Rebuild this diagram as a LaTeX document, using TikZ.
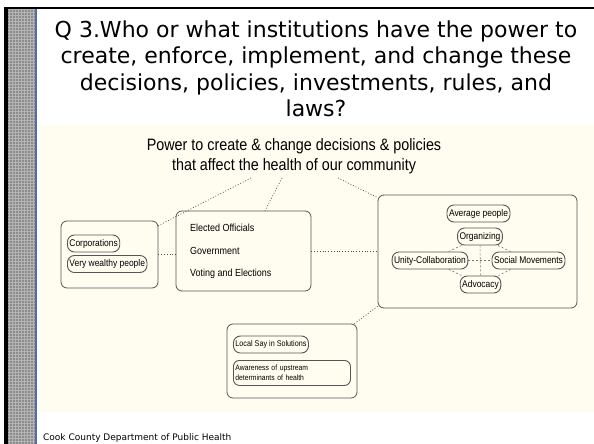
\documentclass[tikz,border=0pt]{standalone}
\usepackage{fontspec}
\setmainfont{DejaVu Sans}
\newfontfamily\diagfont[FakeStretch=0.87]{Liberation Sans}
\usepackage{tikz}
\definecolor{panelbg}{RGB}{255,252,240}
\definecolor{stripgray}{RGB}{140,140,140}
\definecolor{stripblue}{RGB}{80,110,160}
\definecolor{boxline}{RGB}{85,85,85}

\begin{document}
\begin{tikzpicture}[x=1pt,y=-1pt,
    group node/.style={draw=boxline,line width=0.8pt,rounded corners=6pt,inner sep=0pt},
    pill node/.style={draw=boxline,line width=0.9pt,rounded corners=7pt,inner xsep=2pt,inner ysep=0pt,minimum height=17pt,font=\diagfont\fontsize{9.7}{11}\selectfont},
    item node/.style={anchor=west,inner sep=0pt,font=\diagfont\fontsize{10.3}{12}\selectfont},
    link/.style={dotted,line width=0.8pt,draw=black!70},
    inner link/.style={dash pattern=on 2pt off 2pt,line width=0.6pt,draw=black!55}]

	\useasboundingbox (0,0) rectangle (594,444);
	\fill[white] (0,0) rectangle (594,444);
	% slide frame
	\fill[stripgray] (8,9) rectangle (35,444);
	\draw[white,opacity=0.35,line width=0.4pt,step=3pt] (8,9) grid (35,444);
	\fill[stripblue] (35,9) rectangle (37,444);
	\fill[black] (4,7) rectangle (594,9.5);
	\fill[black] (4,7) rectangle (8,444);
	\fill[panelbg] (40,125) rectangle (594,412);

	\node[align=center,font=\fontsize{22}{26.5}\selectfont] (question) at (316,69)
	  {Q 3.Who or what institutions have the power to\\create, enforce, implement, and change these\\decisions, policies, investments, rules, and\\laws?};

	\node[align=center,font=\diagfont\fontsize{16.5}{19.5}\selectfont] (power) at (294,156)
	  {Power to create \& change decisions \& policies\\that affect the health of our community};
	\coordinate (p1) at (251,178);
	\coordinate (p2) at (282,178);
	\coordinate (p3) at (338,178);

	% groups
	\node[group node,minimum width=97pt,minimum height=67pt] (money) at (109.5,254.5) {};
	\node[group node,minimum width=135pt,minimum height=80pt] (gov) at (243.5,251) {};
	\node[group node,minimum width=199pt,minimum height=113pt] (people) at (477.5,251.5) {};
	\node[group node,minimum width=130pt,minimum height=74pt] (local) at (292,361) {};

	\node[pill node,anchor=west] (corporations) at (67,243.5) {Corporations};
	\node[pill node,anchor=west] (wealthy) at (67,264) {Very wealthy people};

	\node[item node] (elected) at (190,228) {Elected Officials};
	\node[item node] (government) at (190,251) {Government};
	\node[item node] (voting) at (190,274) {Voting and Elections};

	\node[pill node] (average) at (478.5,213.5) {Average people};
	\node[pill node] (organizing) at (480,236.5) {Organizing};
	\node[pill node] (unity) at (430,260.5) {Unity-Collaboration};
	\node[pill node] (social) at (528.5,260.5) {Social Movements};
	\node[pill node] (advocacy) at (480.5,284.5) {Advocacy};

	\node[pill node,anchor=west,font=\diagfont\fontsize{8.3}{10}\selectfont] (say) at (233,344.5) {Local Say in Solutions};
	\node[draw=boxline,line width=0.9pt,rounded corners=6pt,anchor=north west,minimum width=117pt,minimum height=25pt,
	  text width=113pt,inner xsep=2pt,inner ysep=0pt,align=left,font=\diagfont\fontsize{7.8}{10}\selectfont] (awareness) at (233,360)
	  {Awareness of upstream\\determinants of health};

	\node[anchor=base west,inner sep=0pt,font=\fontsize{9}{11}\selectfont] (footer) at (43,440.5) {Cook County Department of Public Health};

	\path[link]
	(p1) edge ([yshift=-5pt]money.north east)
	(p2) edge ([xshift=21.5pt]gov.north)
	(p3) edge ([yshift=-3pt]people.north west)
	(money.east) edge (money.east -| gov.west)
	(gov.east) edge (gov.east -| people.west)
	([yshift=2pt]people.south west) edge ([xshift=-3pt]local.north east);

	\path[inner link]
	(organizing) edge (unity)
	(organizing) edge (social)
	(organizing) edge (advocacy)
	(unity) edge (social)
	(unity) edge (advocacy)
	(social) edge (advocacy);

\end{tikzpicture}
\end{document}
